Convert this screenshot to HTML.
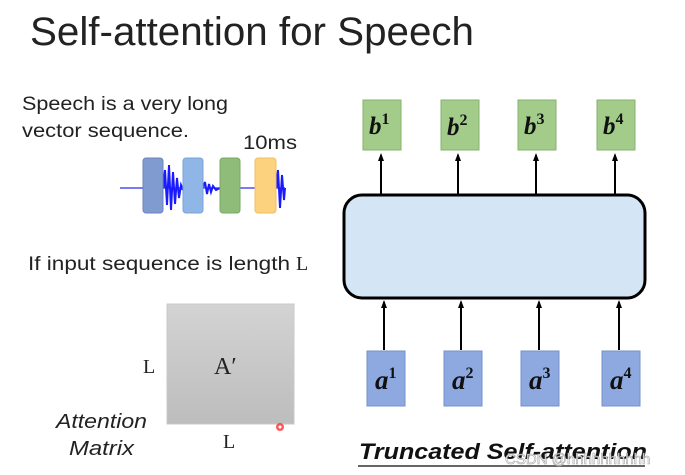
<!DOCTYPE html>
<html><head><meta charset="utf-8"><style>
html,body{margin:0;padding:0;background:#fff;width:685px;height:475px;overflow:hidden}
svg{display:block}
</style></head><body>
<svg width="685" height="475" viewBox="0 0 685 475" xmlns="http://www.w3.org/2000/svg" font-family="Liberation Sans, sans-serif">
<defs>
<linearGradient id="gr" x1="0" y1="0" x2="0" y2="1"><stop offset="0" stop-color="#d3d3d3"/><stop offset="1" stop-color="#bdbdbd"/></linearGradient>
<marker id="ah" markerUnits="userSpaceOnUse" markerWidth="8" markerHeight="8" refX="6" refY="4" orient="auto"><path d="M0,1 L8,4 L0,7 Z" fill="#000"/></marker>
</defs>
<text x="30" y="45" font-size="40" fill="#222" textLength="444" lengthAdjust="spacingAndGlyphs">Self-attention for Speech</text>
<text x="22" y="110" font-size="19" fill="#222" textLength="206" lengthAdjust="spacingAndGlyphs">Speech is a very long</text>
<text x="22" y="137" font-size="19" fill="#222" textLength="167" lengthAdjust="spacingAndGlyphs">vector sequence.</text>
<text x="243" y="149" font-size="19" fill="#222" textLength="54" lengthAdjust="spacingAndGlyphs">10ms</text>
<line x1="120" y1="188" x2="285" y2="188" stroke="#2a2af0" stroke-width="1.2"/>
<path d="M163,188 L165,170 L167,205 L169,165 L171,210 L173,172 L175,204 L177,178 L179,198 L181,185 L183,190" stroke="#1a1aff" stroke-width="2" fill="#2a2aff"/>
<path d="M203,188 L205,182 L207,194 L209,184 L211,192 L213,186 L216,190 L220,188" stroke="#1a1aff" stroke-width="2" fill="none"/>
<path d="M276,188 L278,170 L280,208 L282,175 L284,200 L285,188" stroke="#1a1aff" stroke-width="2" fill="#2a2aff"/>
<rect x="143" y="158" width="20" height="55" rx="3" fill="#7f9bd0" stroke="#6c86be"/>
<rect x="183" y="158" width="20" height="55" rx="3" fill="#8fb6e6" stroke="#7aa4d8"/>
<rect x="220" y="158" width="20" height="55" rx="3" fill="#8fbc78" stroke="#7aa866"/>
<rect x="255" y="158" width="21" height="55" rx="3" fill="#fcd27e" stroke="#eebf66"/>
<text x="28" y="270" font-size="19" fill="#222" textLength="262" lengthAdjust="spacingAndGlyphs">If input sequence is length</text>
<text x="296" y="270" font-size="20" fill="#222" font-family="Liberation Serif, serif">L</text>
<rect x="167" y="304" width="127" height="120" fill="url(#gr)" stroke="#c8c8c8"/>
<text x="143" y="373" font-size="20" font-family="Liberation Serif, serif" fill="#222">L</text>
<text x="214" y="374" font-size="24" font-family="Liberation Serif, serif" fill="#222">A′</text>
<text x="223" y="448" font-size="20" font-family="Liberation Serif, serif" fill="#222">L</text>
<text x="56" y="428" font-size="20" font-style="italic" fill="#222" textLength="91" lengthAdjust="spacingAndGlyphs">Attention</text>
<text x="69" y="455" font-size="20" font-style="italic" fill="#222" textLength="65" lengthAdjust="spacingAndGlyphs">Matrix</text>
<circle cx="280" cy="427" r="4" fill="#ff3030" opacity="0.8"/><circle cx="280" cy="427" r="1.5" fill="#fff"/>
<g fill="#a3cc8a" stroke="#86b26c">
<rect x="363" y="100" width="38" height="50"/><rect x="441" y="100" width="38" height="50"/>
<rect x="518" y="100" width="38" height="50"/><rect x="597" y="100" width="38" height="50"/>
</g>
<g font-family="Liberation Serif, serif" font-weight="bold" font-style="italic" font-size="25" fill="#111">
<text x="369" y="134">b<tspan font-size="16" dy="-10" font-style="normal">1</tspan></text>
<text x="447" y="135">b<tspan font-size="16" dy="-10" font-style="normal">2</tspan></text>
<text x="524" y="134">b<tspan font-size="16" dy="-10" font-style="normal">3</tspan></text>
<text x="603" y="134">b<tspan font-size="16" dy="-10" font-style="normal">4</tspan></text>
</g>
<g stroke="#000" stroke-width="2" marker-end="url(#ah)">
<line x1="381" y1="194" x2="381" y2="155"/><line x1="458" y1="194" x2="458" y2="155"/>
<line x1="536" y1="194" x2="536" y2="155"/><line x1="615" y1="194" x2="615" y2="155"/>
<line x1="384" y1="350" x2="384" y2="302"/><line x1="461" y1="350" x2="461" y2="302"/>
<line x1="539" y1="350" x2="539" y2="302"/><line x1="619" y1="350" x2="619" y2="302"/>
</g>
<rect x="344" y="195" width="301" height="103" rx="18" fill="#d4e6f5" stroke="#000" stroke-width="3"/>
<g fill="#8ea8e0" stroke="#7590cc">
<rect x="367" y="351" width="38" height="55"/><rect x="444" y="351" width="38" height="55"/>
<rect x="521" y="351" width="38" height="55"/><rect x="602" y="351" width="38" height="55"/>
</g>
<g font-family="Liberation Serif, serif" font-weight="bold" font-style="italic" font-size="27" fill="#111">
<text x="375" y="389">a<tspan font-size="16" dy="-11" font-style="normal">1</tspan></text>
<text x="452" y="389">a<tspan font-size="16" dy="-11" font-style="normal">2</tspan></text>
<text x="529" y="389">a<tspan font-size="16" dy="-11" font-style="normal">3</tspan></text>
<text x="610" y="389">a<tspan font-size="16" dy="-11" font-style="normal">4</tspan></text>
</g>
<text x="359" y="459" font-size="22" font-weight="bold" font-style="italic" fill="#111" textLength="288" lengthAdjust="spacingAndGlyphs">Truncated Self-attention</text>
<line x1="358" y1="466" x2="645" y2="466" stroke="#333" stroke-width="1.5"/>
<text x="505" y="464" font-size="15" fill="#fff" stroke="#999" stroke-width="0.6" opacity="0.9">CSDN @hhhhhhhhhh</text>
</svg>
</body></html>
